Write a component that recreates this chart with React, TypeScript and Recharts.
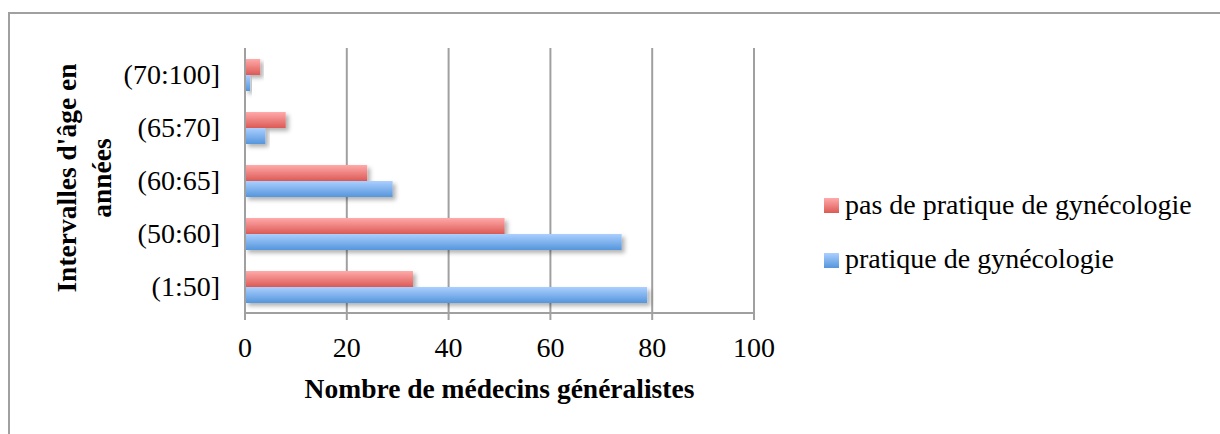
import React from 'react';
import { BarChart, Bar, XAxis, YAxis, CartesianGrid, Label } from 'recharts';

// age bands, bottom to top as in the picture
const ageBands = ['(1:50]', '(50:60]', '(60:65]', '(65:70]', '(70:100]'];
const pratique = [79, 74, 29, 4, 1];
const pasPratique = [33, 51, 24, 8, 3];
const xTicks = [0, 20, 40, 60, 80, 100];

const seriesNames = {
    pas: 'pas de pratique de gynécologie',
    pratique: 'pratique de gynécologie'
};

const data = ageBands.map((band, i) => ({
    band,
    pratique: pratique[i],
    pas: pasPratique[i]
}));

const FONT = '"Liberation Serif", "DejaVu Serif", serif';
const GRID = '#a0a0a0';

const YLabel = () => (
    <text
        transform="translate(76,178) rotate(-90)"
        textAnchor="middle"
        fontFamily={FONT}
        fontWeight="bold"
        fontSize={27.5}
        fill="#000"
    >
        <tspan x={0} dy={0}>Intervalles d'âge en</tspan>
        <tspan x={0} dy={35}>années</tspan>
    </text>
);

const App: React.FC = () => {
    return (
        <div style={{ position: 'absolute', left: 0, top: 0, width: 1220, height: 434, overflow: 'hidden', background: '#fff' }}>
            <div
                style={{
                    position: 'absolute',
                    left: 8,
                    top: 12,
                    width: 1230,
                    height: 440,
                    borderTop: `2px solid ${GRID}`,
                    borderLeft: `2px solid ${GRID}`
                }}
            />
            <div style={{ position: 'absolute', left: 0, top: 0 }}>
                <BarChart
                    width={1220}
                    height={434}
                    data={data}
                    layout="vertical"
                    margin={{ top: 48, right: 466, bottom: 61, left: 0 }}
                    barGap={0}
                    barSize={16}
                >
                    <defs>
                        <linearGradient id="gradRed" x1="0" y1="0" x2="0" y2="1">
                            <stop offset="0%" stopColor="#ffaaaa" />
                            <stop offset="100%" stopColor="#dc5a55" />
                        </linearGradient>
                        <linearGradient id="gradBlue" x1="0" y1="0" x2="0" y2="1">
                            <stop offset="0%" stopColor="#abcfff" />
                            <stop offset="100%" stopColor="#5596dc" />
                        </linearGradient>
                        <filter id="barShadow" x="-10%" y="-30%" width="130%" height="190%">
                            <feDropShadow dx={3} dy={3} stdDeviation={2} floodColor="#000" floodOpacity={0.3} />
                        </filter>
                    </defs>
                    <CartesianGrid horizontal={false} stroke={GRID} strokeWidth={2} />
                    <XAxis
                        type="number"
                        domain={[0, 100]}
                        ticks={xTicks}
                        height={60}
                        tickSize={7}
                        tickMargin={17}
                        axisLine={{ stroke: GRID, strokeWidth: 2 }}
                        tickLine={{ stroke: GRID, strokeWidth: 2 }}
                        tick={{ fontSize: 28, fontFamily: FONT, fill: '#000' }}
                    >
                        <Label
                            value="Nombre de médecins généralistes"
                            position="bottom"
                            offset={5}
                            style={{ fontSize: 27.5, fontFamily: FONT, fontWeight: 'bold', fill: '#000' }}
                        />
                    </XAxis>
                    <YAxis
                        type="category"
                        dataKey="band"
                        reversed
                        width={245}
                        tickSize={6}
                        tickMargin={19}
                        tickLine={false}
                        axisLine={{ stroke: GRID, strokeWidth: 2 }}
                        tick={{ fontSize: 28, fontFamily: FONT, fill: '#000' }}
                    >
                        <Label content={<YLabel />} />
                    </YAxis>
                    <Bar
                        dataKey="pas"
                        name={seriesNames.pas}
                        fill="url(#gradRed)"
                        filter="url(#barShadow)"
                        isAnimationActive={false}
                    />
                    <Bar
                        dataKey="pratique"
                        name={seriesNames.pratique}
                        fill="url(#gradBlue)"
                        filter="url(#barShadow)"
                        isAnimationActive={false}
                    />
                </BarChart>
            </div>
            <svg
                width={1220}
                height={434}
                style={{ position: 'absolute', left: 0, top: 0, pointerEvents: 'none' }}
            >
                <rect x={824} y={198} width={15} height={15} fill="url(#gradRed)" />
                <text x={845} y={214} fontFamily={FONT} fontSize={28} fill="#000">
                    {seriesNames.pas}
                </text>
                <rect x={824} y={253} width={15} height={15} fill="url(#gradBlue)" />
                <text x={845} y={268} fontFamily={FONT} fontSize={28} fill="#000">
                    {seriesNames.pratique}
                </text>
            </svg>
        </div>
    );
};

export default App;
